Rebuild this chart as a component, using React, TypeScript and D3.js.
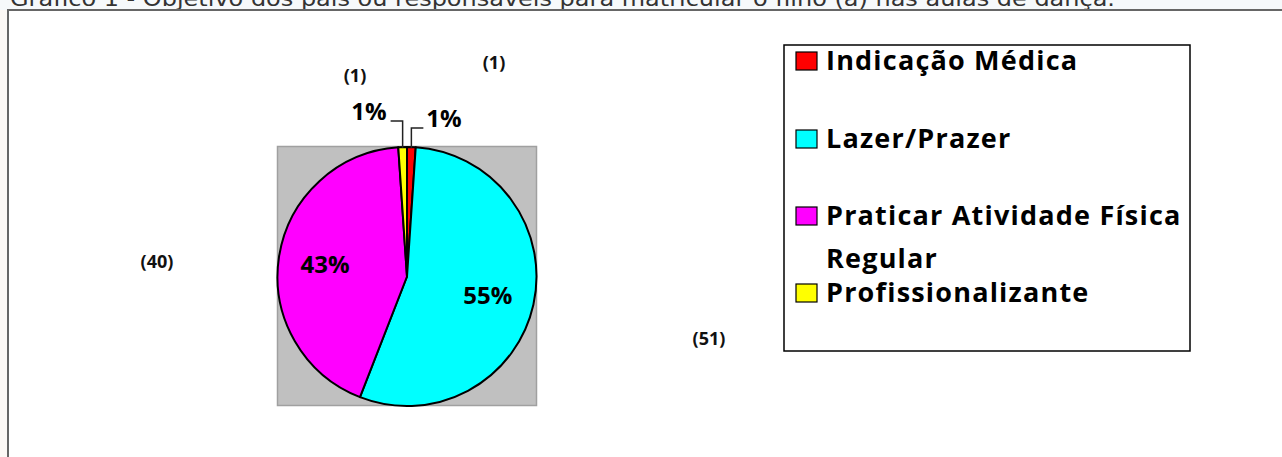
import React from "react";
import * as d3 from "d3";

const categories = ["Indicação Médica", "Lazer/Prazer", "Praticar Atividade Física Regular", "Profissionalizante"];
const legendLines = [["Indicação Médica"], ["Lazer/Prazer"], ["Praticar Atividade Física", "Regular"], ["Profissionalizante"]];
const values = [1, 51, 40, 1];
const colors = ["#ff0000", "#00ffff", "#ff00ff", "#ffff00"];
const title = "Gráfico 1 - Objetivo dos pais ou responsáveis para matricular o filho (a) nas aulas de dança.";

// layout
const W = 1282, H = 457;
const cx = 407, cy = 276.5, R = 129.5;
// count label placements (as drawn in the original, relative to pie centre)
const countOffsets: [number, number][] = [[87, -208], [302, 68], [-250, -9], [-52, -195]];
const legendRowsY = [70, 148, 225, 302];

export default function App() {
  const total = d3.sum(values);
  const pie = d3.pie<number>().sort(null).value((d) => d)(values);
  const arc = d3.arc<d3.PieArcDatum<number>>().innerRadius(0).outerRadius(R);
  const labelArc = d3.arc<d3.PieArcDatum<number>>().innerRadius(R * 0.64).outerRadius(R * 0.64);
  const edgeArc = d3.arc<d3.PieArcDatum<number>>().innerRadius(R).outerRadius(R);
  const pct = (v: number) => `${Math.round((v / total) * 100)}%`;
  const font = "'Open Sans', Lato, sans-serif";

  return (
    <svg width={W} height={H} style={{ position: "absolute", left: 0, top: 0, background: "#fff" }}>
      <rect x={0} y={0} width={W} height={10} fill="#f6f9fb" />
      <rect x={0} y={10} width={8} height={H} fill="#fcf8f5" />
      <text x={10} y={6} fontFamily="'DejaVu Sans', sans-serif" fontSize={21} fill="#333" textLength={1105} lengthAdjust="spacingAndGlyphs">
        {title}
      </text>
      <rect x={8} y={10} width={1300} height={500} fill="#fff" stroke="#666" strokeWidth={2} />

      {/* plot area */}
      <rect x={cx - R} y={cy - R - 0.5} width={2 * R} height={2 * R} fill="#c0c0c0" stroke="#a0a0a0" strokeWidth={1.5} />
      <g transform={`translate(${cx},${cy})`}>
        {pie.map((p, i) => (
          <path key={i} d={arc(p) || ""} fill={colors[i]} stroke="#000" strokeWidth={2} strokeLinejoin="round" />
        ))}
      </g>

      {/* labels */}
      {pie.map((p, i) => {
        const frac = p.data / total;
        if (frac > 0.05) {
          const [lx, ly] = labelArc.centroid(p);
          return (
            <text key={"p" + i} x={cx + lx} y={cy + ly + 9} textAnchor="middle" fontFamily={font} fontWeight={700} fontSize={24} fill="#000">
              {pct(p.data)}
            </text>
          );
        }
        const [ex, ey] = edgeArc.centroid(p);
        const mid = (p.startAngle + p.endAngle) / 2;
        const right = Math.sin(mid) > 0;
        const x0 = cx + ex, y0 = cy + ey + 1;
        const yL = right ? y0 - 20 : y0 - 27;
        const xL = right ? x0 + 12 : x0 - 12;
        return (
          <g key={"p" + i}>
            <polyline points={`${x0},${y0} ${x0},${yL} ${xL},${yL}`} fill="none" stroke="#222" strokeWidth={1.5} />
            <text x={right ? xL + 3 : xL - 4} y={yL - 1} textAnchor={right ? "start" : "end"} fontFamily={font} fontWeight={700} fontSize={24} fill="#000">
              {pct(p.data)}
            </text>
          </g>
        );
      })}

      {values.map((v, i) => (
        <text key={"c" + i} x={cx + countOffsets[i][0]} y={cy + countOffsets[i][1]} textAnchor="middle" fontFamily={font} fontWeight={700} fontSize={18} fill="#111">
          ({v})
        </text>
      ))}

      {/* legend */}
      <rect x={784} y={45} width={406} height={306} fill="#fff" stroke="#000" strokeWidth={1.5} />
      {categories.map((c, i) => (
        <g key={c}>
          <rect x={796} y={legendRowsY[i] - 18} width={21} height={18} fill={colors[i]} stroke="#000" strokeWidth={1.2} />
          {legendLines[i].map((line, j) => (
            <text key={j} x={826} y={legendRowsY[i] + j * 43} fontFamily={font} fontWeight={700} fontSize={27} letterSpacing={1.2} fill="#000">
              {line}
            </text>
          ))}
        </g>
      ))}
    </svg>
  );
}
